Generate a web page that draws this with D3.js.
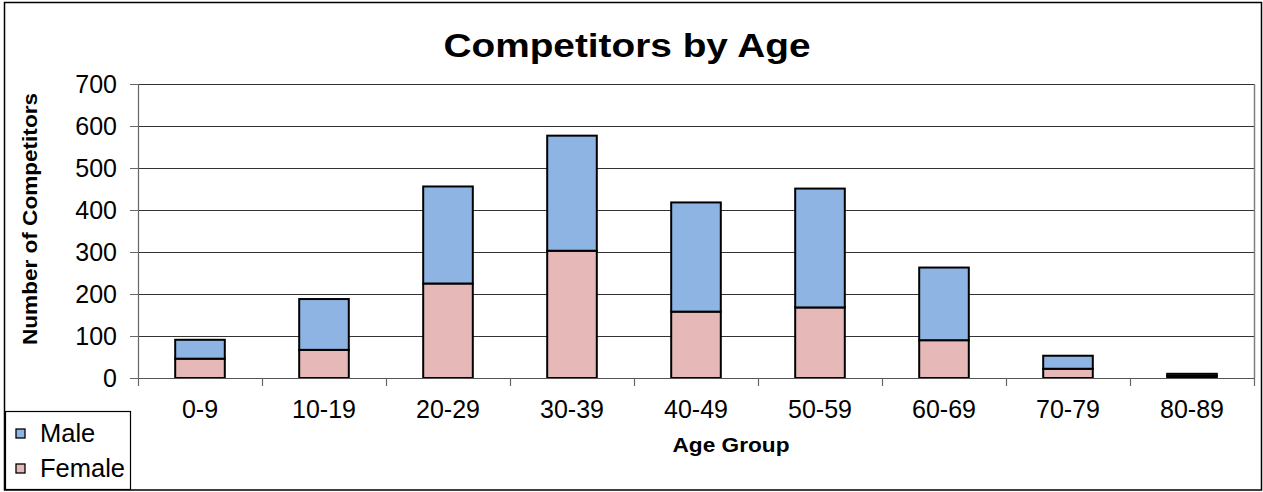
<!DOCTYPE html>
<html><head><meta charset="utf-8">
<script src="https://cdn.jsdelivr.net/npm/d3@7"></script>
<style>
html,body{margin:0;padding:0;background:#fff;}
text{font-family:"Liberation Sans",Arial,sans-serif;fill:#000;}
</style></head>
<body><svg id="c" width="1263" height="492"></svg>
<script>
const categories = ["0-9","10-19","20-29","30-39","40-49","50-59","60-69","70-79","80-89"];
const female = [46, 67, 225, 303, 158, 168, 90, 22, 5];
const male = [45, 121, 231, 274, 260, 283, 173, 31, 5];
const yTicks = [0,100,200,300,400,500,600,700];
const seriesNames = ["Male","Female"];
const colors = {Male:"#8EB4E3", Female:"#E6B9B8"};

const svg = d3.select("#c");
const L = 138, R = 1254, T = 84, B = 378;

const x = d3.scaleBand().domain(categories).range([L, R]).paddingInner(0.6).paddingOuter(0.3);
const xi = d3.scaleLinear().domain([0, categories.length]).range([L, R]);
const y = d3.scaleLinear().domain([0, 700]).range([B, T]);

// outer border
svg.append("rect").attr("x",4.5).attr("y",2.5).attr("width",1257).attr("height",487.5)
  .attr("fill","none").attr("stroke","#000").attr("stroke-width",1.5);

// gridlines
svg.append("g").selectAll("line").data(yTicks.filter(d=>d>0)).join("line")
  .attr("x1",L).attr("x2",R).attr("y1",d=>Math.round(y(d))+0.5).attr("y2",d=>Math.round(y(d))+0.5)
  .attr("stroke","#333").attr("stroke-width",1);
// plot border right
svg.append("line").attr("x1",R+0.5).attr("x2",R+0.5).attr("y1",T).attr("y2",B)
  .attr("stroke","#808080").attr("stroke-width",1.5);

// stacked data
const data = categories.map((c,i)=>({cat:c, Female:female[i], Male:male[i]}));
const stack = d3.stack().keys(["Female","Male"])(data);
svg.append("g").selectAll("g").data(stack).join("g")
  .attr("fill",d=>colors[d.key])
  .selectAll("rect").data(d=>d).join("rect")
  .attr("x",d=>x(d.data.cat)).attr("width",x.bandwidth())
  .attr("y",d=>y(d[1])).attr("height",d=>y(d[0])-y(d[1]))
  .attr("stroke","#000").attr("stroke-width",2);

// y axis
const ya = svg.append("g").attr("transform",`translate(${L},0)`)
  .call(d3.axisLeft(y).tickValues(yTicks).tickSize(8).tickPadding(13));
ya.select(".domain").attr("stroke","#666").attr("stroke-width",1.2);
ya.selectAll(".tick line").attr("stroke","#666");
ya.selectAll("text").style("font-size","25px").style("font-family","Liberation Sans, Arial, sans-serif").attr("fill","#000");

// x axis labels
const xa = svg.append("g").attr("transform",`translate(0,${B})`)
  .call(d3.axisBottom(x).tickSize(0).tickPadding(22));
xa.select(".domain").remove();
xa.selectAll("text").style("font-size","25px").style("font-family","Liberation Sans, Arial, sans-serif").attr("fill","#000");
// x axis line and ticks between categories
svg.append("line").attr("x1",L).attr("x2",R).attr("y1",B+0.5).attr("y2",B+0.5).attr("stroke","#555").attr("stroke-width",1.2);
svg.append("g").selectAll("line").data(d3.range(categories.length+1)).join("line")
  .attr("x1",d=>Math.round(xi(d))+0.5).attr("x2",d=>Math.round(xi(d))+0.5)
  .attr("y1",B).attr("y2",B+8).attr("stroke","#666").attr("stroke-width",1.2);

// title
svg.append("text").attr("x",627).attr("y",57).attr("text-anchor","middle")
  .attr("font-weight","bold").style("font-size","34px")
  .attr("textLength",367).attr("lengthAdjust","spacingAndGlyphs").text("Competitors by Age");

// axis titles
svg.append("text").attr("x",731).attr("y",452).attr("text-anchor","middle")
  .attr("font-weight","bold").style("font-size","21px")
  .attr("textLength",117).attr("lengthAdjust","spacingAndGlyphs").text("Age Group");
svg.append("text").attr("transform","translate(37,219) rotate(-90)").attr("text-anchor","middle")
  .attr("font-weight","bold").style("font-size","20px")
  .attr("textLength",252).attr("lengthAdjust","spacingAndGlyphs").text("Number of Competitors");

// legend
const lg = svg.append("g");
lg.append("rect").attr("x",5.5).attr("y",411.5).attr("width",125).attr("height",78)
  .attr("fill","#fff").attr("stroke","#000").attr("stroke-width",1.2);
const items = lg.selectAll("g.it").data(seriesNames).join("g").attr("class","it")
  .attr("transform",(d,i)=>`translate(0,${433 + i*35})`);
items.append("rect").attr("x",16).attr("y",-4).attr("width",9).attr("height",9)
  .attr("fill",d=>colors[d]).attr("stroke","#000").attr("stroke-width",1.3);
items.append("text").attr("x",40).attr("y",9).style("font-size","25.5px").text(d=>d);
</script></body></html>
